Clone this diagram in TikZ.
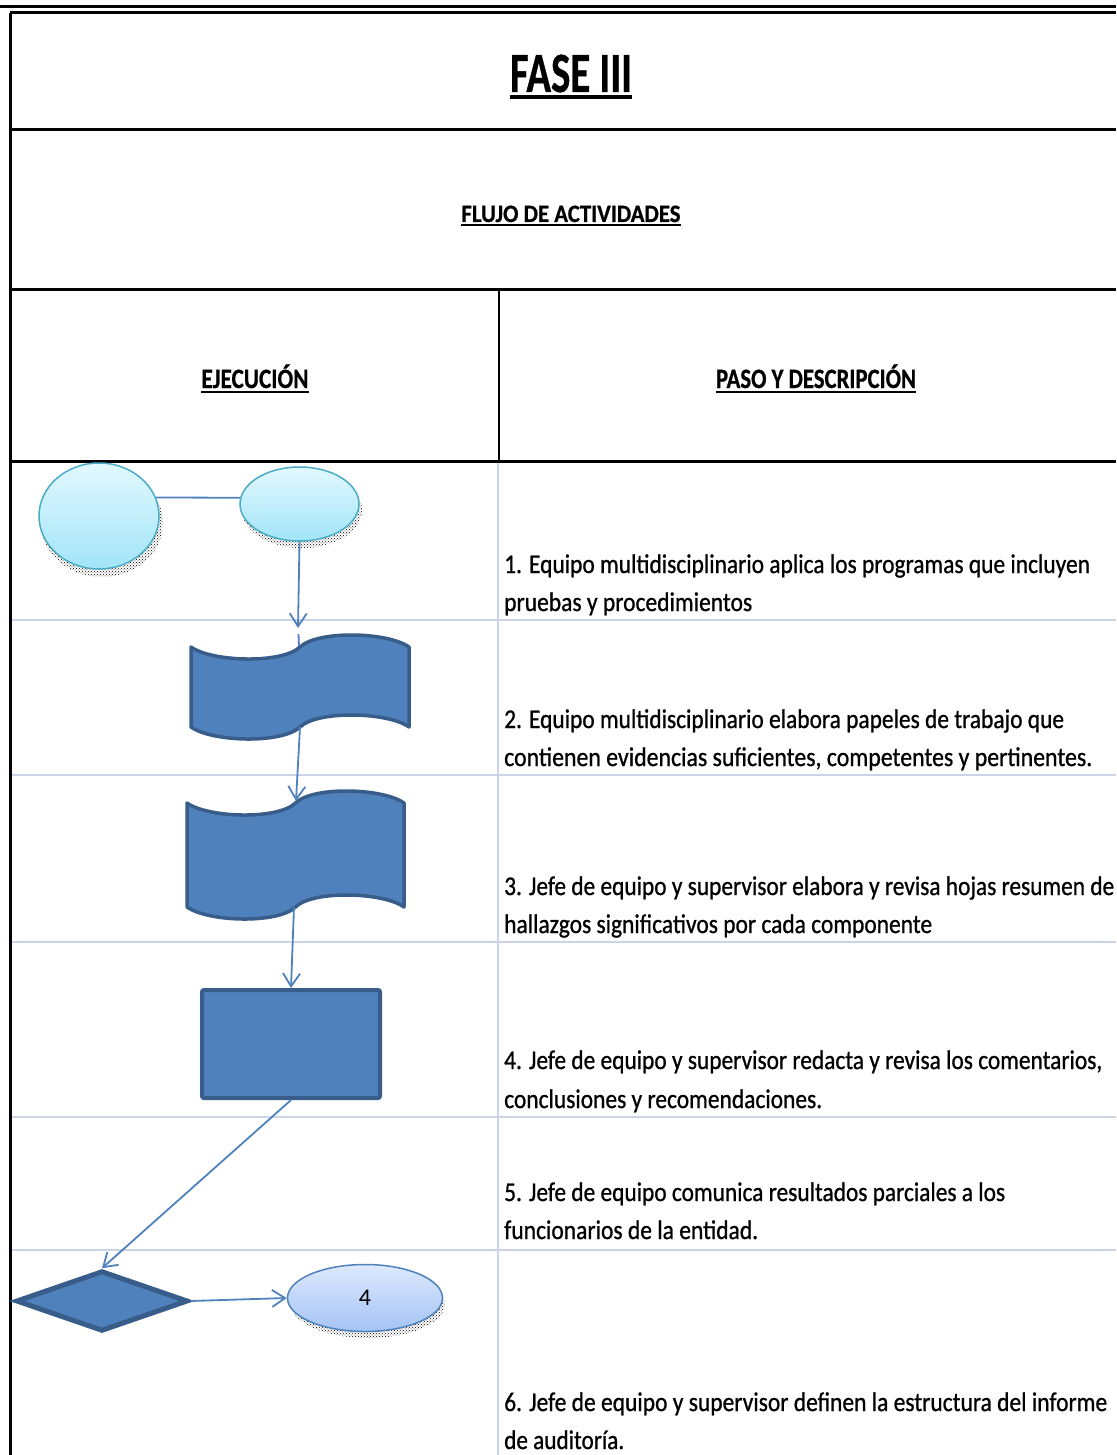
\documentclass[tikz,border=0pt]{standalone}
\usepackage{fontspec}
\setmainfont{Carlito}
\newfontfamily\bodyfont{Carlito}[FakeBold=0.9]
\newfontfamily\headfont{Carlito Bold}[FakeBold=0.8]
\usetikzlibrary{arrows.meta,patterns,shapes.geometric,calc}

\definecolor{flowblue}{HTML}{4F81BD}
\definecolor{flowedge}{HTML}{385D8A}
\definecolor{gridline}{HTML}{CCD5E6}
\definecolor{cyanedge}{HTML}{4BACC6}
\definecolor{cyantop}{HTML}{E2F8FE}
\definecolor{cyanbot}{HTML}{A2E5F8}
\definecolor{bluetop}{HTML}{DDE9FD}
\definecolor{bluebot}{HTML}{A4C3F5}

% scale a piece of text horizontally to a given width, keeping its height
\newcommand\hfit[2]{\resizebox{#1}{\height}{#2}}

\tikzset{
  frame/.style={line width=3pt, black},
  divider/.style={line width=2pt, black},
  softrule/.style={line width=1.6pt, gridline},
  heading/.style={anchor=base, inner sep=0pt, font=\headfont\fontsize{28}{28}\selectfont},
  steptext/.style={anchor=base west, inner sep=0pt, font=\bodyfont\fontsize{27}{30}\selectfont},
  terminal/.style={ellipse, inner sep=0pt, draw=cyanedge, line width=1.5pt,
                   top color=cyantop, bottom color=cyanbot},
  connector/.style={ellipse, inner sep=0pt, draw=flowblue, line width=1.5pt,
                    top color=bluetop, bottom color=bluebot},
  shadowdots/.style={pattern=crosshatch dots, pattern color=black},
  tape/.style={fill=flowblue, draw=flowedge, line width=3.5pt, line join=round},
  process/.style={rectangle, fill=flowblue, draw=flowedge, line width=4pt, rounded corners=2pt, inner sep=0pt},
  decision/.style={diamond, fill=flowblue, draw=flowedge, line width=5pt, inner sep=0pt},
  flowline/.style={draw=flowblue, line width=1.8pt},
  flow/.style={flowline, -{Straight Barb[length=13pt, width=17pt, line width=1.8pt]}},
}

\begin{document}
\begin{tikzpicture}[x=1pt, y=-1pt]
\useasboundingbox (0,0) rectangle (1116,1455);

% ---- table frame ----
\draw[frame] (0,7) -- (1116,7);
\draw[frame] (10,13) -- (1116,13);
\draw[frame] (10,13) -- (10,1455);
\draw[frame] (10,130) -- (1116,130);
\draw[frame] (10,289) -- (1116,289);
\draw[frame] (10,461) -- (1116,461);
\draw[divider] (499,289) -- (499,461);

% ---- row separators of the body ----
\draw[softrule] (498,463) -- (498,1455);
\foreach \yy in {620,775,942,1117,1250}
  \draw[softrule] (12,\yy) -- (1116,\yy);

% ---- headings ----
\node[heading, font=\headfont\fontsize{57}{57}\selectfont] (fase) at (571,92) {\hfit{122pt}{FASE III}};
\draw[line width=3.5pt] ($(fase.base west)+(0,5)$) -- ($(fase.base east)+(0,5)$);

\node[heading, font=\headfont\fontsize{25}{25}\selectfont] (flujo) at (571,222) {\hfit{219pt}{FLUJO DE ACTIVIDADES}};
\draw[line width=2pt] ($(flujo.base west)+(0,3.5)$) -- ($(flujo.base east)+(0,3.5)$);

\node[heading] (ejec) at (255,388) {\hfit{107pt}{EJECUCIÓN}};
\draw[line width=2pt] ($(ejec.base west)+(0,3.5)$) -- ($(ejec.base east)+(0,3.5)$);

\node[heading] (paso) at (816,388) {\hfit{200pt}{PASO Y DESCRIPCIÓN}};
\draw[line width=2pt] ($(paso.base west)+(0,3.5)$) -- ($(paso.base east)+(0,3.5)$);

% ---- step descriptions ----
\node[steptext] (s1a) at (504,573) {\hfit{586pt}{1. Equipo multidisciplinario aplica los programas que incluyen}};
\node[steptext] (s1b) at (504,611) {\hfit{248pt}{pruebas y procedimientos}};
\node[steptext] (s2a) at (504,728) {\hfit{560pt}{2. Equipo multidisciplinario elabora papeles de trabajo que}};
\node[steptext] (s2b) at (504,766) {\hfit{588pt}{contienen evidencias suficientes, competentes y pertinentes.}};
\node[steptext] (s3a) at (504,895) {\hfit{610pt}{3. Jefe de equipo y supervisor elabora y revisa hojas resumen de}};
\node[steptext] (s3b) at (504,933) {\hfit{428pt}{hallazgos significativos por cada componente}};
\node[steptext] (s4a) at (504,1069) {\hfit{598pt}{4. Jefe de equipo y supervisor redacta y revisa los comentarios,}};
\node[steptext] (s4b) at (504,1108) {\hfit{318pt}{conclusiones y recomendaciones.}};
\node[steptext] (s5a) at (504,1201) {\hfit{501pt}{5. Jefe de equipo comunica resultados parciales a los}};
\node[steptext] (s5b) at (504,1239) {\hfit{254pt}{funcionarios de la entidad.}};
\node[steptext] (s6a) at (504,1411) {\hfit{603pt}{6. Jefe de equipo y supervisor definen la estructura del informe}};
\node[steptext] (s6b) at (504,1449) {\hfit{120pt}{de auditoría.}};

% ---- start terminals ----
\fill[shadowdots] (102,523) ellipse [x radius=61, y radius=54];
\node[terminal, minimum width=120pt, minimum height=106pt] (e1) at (99,516) {};
\fill[shadowdots] (302,510) ellipse [x radius=60, y radius=38];
\node[terminal, minimum width=119pt, minimum height=74pt] (e2) at (299.5,504) {};
\draw[flowline] (e1.18) -- (e2.174);

% ---- punched-tape steps ----
\path[tape] (191,647) .. controls (212,662) and (282,664) .. (300,647)
            .. controls (318,630) and (388,632) .. (409,647)
            -- (409,727) .. controls (388,712) and (318,710) .. (300,727)
            .. controls (282,744) and (212,742) .. (191,727) -- cycle;
\coordinate (w1in) at (299,646);
\coordinate (w1out) at (300,727);

\path[tape] (187,803) .. controls (208,818) and (278,820) .. (295.5,803)
            .. controls (313,786) and (383,788) .. (404,803)
            -- (404,907) .. controls (383,892) and (313,890) .. (295.5,907)
            .. controls (278,924) and (208,922) .. (187,907) -- cycle;
\coordinate (w2in) at (296,801);
\coordinate (w2out) at (294,907);

% ---- process box, decision, connector ----
\node[process, minimum width=178pt, minimum height=108pt] (act) at (291,1044) {};
\node[decision, minimum width=172pt, minimum height=60.6pt] (dec) at (102,1301) {};
\fill[shadowdots] (368,1304) ellipse [x radius=77, y radius=34];
\node[connector, minimum width=155pt, minimum height=67pt,
      font=\fontsize{24}{24}\selectfont] (e3) at (365,1298) {4};

% ---- flow connectors ----
\coordinate (t1) at (298,628);
\draw[flow] (e2.south) -- (t1);
\draw[flowline] (298.5,634) -- (w1in);
\draw[flow] (w1out) -- (w2in);
\draw[flow] (w2out) -- (act.north);
\draw[flow] (act.south) -- (dec.north);
\draw[flow] (dec.east) -- (e3.west);
\end{tikzpicture}
\end{document}
